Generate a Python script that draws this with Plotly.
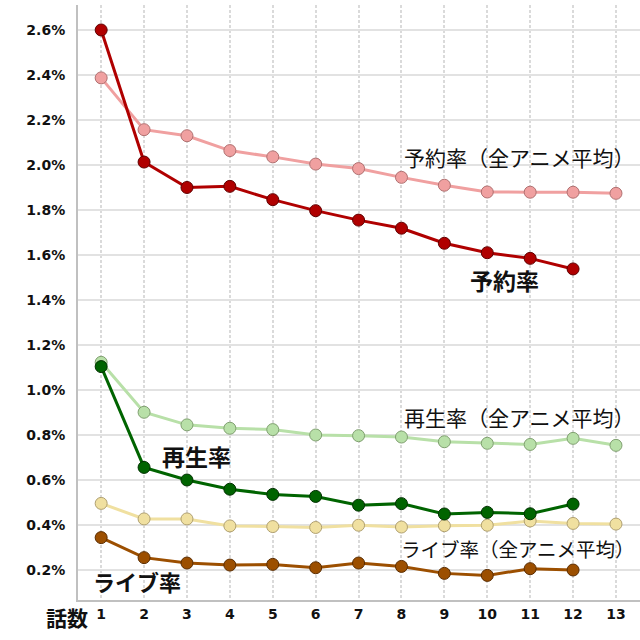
import plotly.graph_objects as go

episodes = list(range(1, 14))
x_tick_labels = [str(i) for i in episodes]

yoyaku = [2.60, 2.013, 1.900, 1.905, 1.846, 1.797, 1.755, 1.719, 1.652, 1.610, 1.585, 1.538]
yoyaku_avg = [2.387, 2.157, 2.130, 2.064, 2.036, 2.004, 1.984, 1.945, 1.910, 1.880, 1.879, 1.879, 1.874]
saisei = [1.104, 0.656, 0.600, 0.559, 0.536, 0.527, 0.488, 0.495, 0.449, 0.456, 0.450, 0.493]
saisei_avg = [1.123, 0.901, 0.845, 0.830, 0.824, 0.800, 0.797, 0.791, 0.770, 0.763, 0.758, 0.785, 0.754]
live = [0.344, 0.255, 0.231, 0.222, 0.225, 0.210, 0.231, 0.216, 0.185, 0.176, 0.206, 0.200]
live_avg = [0.496, 0.427, 0.427, 0.396, 0.393, 0.389, 0.399, 0.391, 0.397, 0.399, 0.418, 0.407, 0.404]

y_ticks = [0.2, 0.4, 0.6, 0.8, 1.0, 1.2, 1.4, 1.6, 1.8, 2.0, 2.2, 2.4, 2.6]
y_tick_labels = [f"{v:.1f}%" for v in y_ticks]

series = [
    (yoyaku_avg, "#f0a0a0", "#b07070"),
    (saisei_avg, "#b8e0a8", "#80a070"),
    (live_avg, "#f0e0a0", "#b0a070"),
    (yoyaku, "#b00000", "#600000"),
    (saisei, "#006400", "#003000"),
    (live, "#9c4f00", "#5a2c00"),
]

fig = go.Figure()
for vals, col, edge in series:
    fig.add_trace(go.Scatter(
        x=episodes[:len(vals)], y=vals, mode="lines+markers",
        line=dict(color=col, width=3),
        marker=dict(size=12, color=col, line=dict(color=edge, width=1)),
        showlegend=False, hoverinfo="skip",
    ))

jp = "Noto Sans CJK JP"
annots = [
    ("予約率（全アニメ平均）", 8.01, 2.037, False, 21, "left"),
    ("予約率", 10.4, 1.49, True, 23, "center"),
    ("再生率（全アニメ平均）", 8.01, 0.882, False, 21, "left"),
    ("再生率", 3.23, 0.707, True, 23, "center"),
    ("ライブ率（全アニメ平均）", 7.94, 0.297, False, 19.5, "left"),
    ("ライブ率", 1.84, 0.152, True, 22, "center"),
]
for text, x, y, bold, size, anchor in annots:
    fig.add_annotation(
        x=x, y=y, xref="x", yref="y", text=f"<b>{text}</b>" if bold else text,
        showarrow=False, xanchor=anchor, yanchor="middle",
        font=dict(family=jp, size=size, color="#111111"),
    )

fig.add_annotation(
    x=0.022, y=-0.028, xref="paper", yref="paper", text="<b>話数</b>",
    showarrow=False, xanchor="right", yanchor="middle",
    font=dict(family=jp, size=21, color="#111111"),
)

fig.update_layout(
    width=640, height=640,
    margin=dict(l=78, r=0, t=5, b=40),
    paper_bgcolor="white", plot_bgcolor="white",
    font=dict(family="DejaVu Sans", size=14, color="#111111"),
)

fig.update_xaxes(
    range=[0.46, 13.56], tickmode="array", tickvals=episodes, ticktext=x_tick_labels,
    tickfont=dict(family="DejaVu Sans", size=14, color="#111111", weight="bold"),
    showgrid=True, gridcolor="#dadada", gridwidth=1.5, griddash="3px,2px",
    showline=True, linecolor="#c0c0c0", linewidth=2, zeroline=False, ticks="",
)
fig.update_yaxes(
    range=[0.0667, 2.711], tickmode="array", tickvals=y_ticks, ticktext=y_tick_labels,
    tickfont=dict(family="DejaVu Sans", size=14, color="#111111", weight="bold"),
    showgrid=True, gridcolor="#e2e2e2", gridwidth=2,
    showline=True, linecolor="#c0c0c0", linewidth=2, zeroline=False, ticks="",
    ticklabelstandoff=8,
)

fig.write_html("out.html", config={"displayModeBar": False},
               post_script="document.body.style.margin='0';")
